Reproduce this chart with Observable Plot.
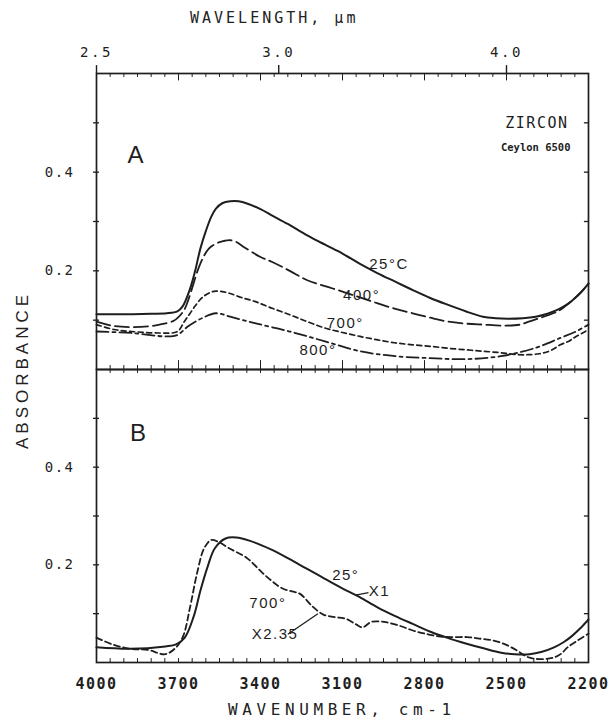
<!DOCTYPE html>
<html><head><meta charset="utf-8">
<script src="https://cdn.jsdelivr.net/npm/d3@7"></script>
<script src="https://cdn.jsdelivr.net/npm/@observablehq/plot@0.6"></script>
<style>
body{margin:0;background:#fff;}
#wrap{position:relative;width:612px;height:723px;color:#222;font-family:"DejaVu Sans Mono",monospace;}
#wrap svg{position:absolute;left:0;}
.t{position:absolute;white-space:nowrap;line-height:1;}
</style></head><body><div id="wrap"></div>
<script>
// ---------- data ----------
// Panel A (ZIRCON Ceylon 6500), wavenumber (cm-1) and absorbance
const wnA25 = [4000,3900,3800,3743,3704,3685,3660,3640,3620,3601,3580,3563,3540,3511,3480,3447,3400,3357,3300,3229,3164,3100,3036,2971,2907,2843,2779,2714,2650,2586,2540,2496,2440,2393,2350,2303,2270,2251,2225,2200];
const absA25 = [0.112,0.112,0.113,0.114,0.118,0.128,0.160,0.198,0.245,0.279,0.310,0.326,0.337,0.341,0.341,0.336,0.325,0.312,0.295,0.272,0.253,0.235,0.214,0.195,0.178,0.161,0.145,0.131,0.118,0.107,0.104,0.103,0.104,0.107,0.113,0.124,0.135,0.144,0.158,0.174];
const wnA400 = [4000,3936,3871,3800,3769,3720,3704,3680,3666,3650,3627,3605,3589,3570,3550,3530,3511,3490,3460,3400,3357,3293,3229,3164,3100,3036,2971,2907,2843,2779,2714,2650,2586,2509,2450,2419,2380,2329,2300,2264,2230,2200];
const absA400 = [0.097,0.088,0.086,0.088,0.091,0.098,0.104,0.120,0.138,0.165,0.205,0.232,0.245,0.253,0.258,0.261,0.262,0.259,0.248,0.228,0.218,0.200,0.181,0.169,0.158,0.146,0.134,0.123,0.114,0.105,0.097,0.093,0.091,0.089,0.091,0.097,0.104,0.114,0.122,0.138,0.155,0.174];
const wnA700 = [4000,3936,3871,3769,3704,3679,3660,3640,3620,3601,3580,3563,3540,3511,3470,3421,3357,3293,3229,3164,3100,3036,2971,2907,2843,2779,2714,2650,2586,2521,2457,2419,2380,2340,2303,2270,2251,2225,2200];
const absA700 = [0.091,0.081,0.077,0.074,0.077,0.097,0.112,0.128,0.142,0.151,0.157,0.159,0.158,0.154,0.146,0.138,0.124,0.111,0.097,0.084,0.075,0.067,0.060,0.054,0.050,0.047,0.043,0.040,0.037,0.034,0.030,0.030,0.032,0.038,0.050,0.058,0.065,0.073,0.081];
const wnA800 = [4000,3871,3743,3704,3666,3614,3563,3511,3421,3293,3164,3036,2907,2779,2650,2521,2393,2303,2250,2200];
const absA800 = [0.077,0.074,0.067,0.070,0.087,0.104,0.114,0.107,0.094,0.077,0.057,0.037,0.027,0.023,0.021,0.027,0.044,0.064,0.076,0.091];
// Panel B: 25° (x1) and 700° (x2.35)
const wnB25 = [4000,3877,3748,3709,3677,3644,3619,3593,3567,3528,3489,3438,3360,3295,3231,3166,3101,3037,2972,2907,2843,2778,2713,2649,2584,2519,2470,2416,2370,2326,2290,2261,2230,2200];
const absB25 = [0.031,0.028,0.033,0.037,0.051,0.095,0.149,0.197,0.234,0.254,0.256,0.249,0.231,0.212,0.192,0.172,0.152,0.134,0.113,0.095,0.079,0.063,0.050,0.039,0.029,0.020,0.017,0.017,0.022,0.031,0.042,0.054,0.070,0.088];
const wnB700 = [4000,3942,3877,3813,3748,3709,3683,3657,3632,3606,3580,3554,3515,3450,3386,3321,3280,3254,3210,3170,3130,3090,3050,3027,2995,2960,2936,2890,2840,2790,2741,2690,2643,2600,2548,2500,2460,2430,2401,2360,2328,2300,2277,2240,2200];
const absB700 = [0.051,0.037,0.028,0.026,0.017,0.031,0.054,0.115,0.183,0.234,0.251,0.247,0.234,0.214,0.180,0.152,0.145,0.140,0.115,0.098,0.093,0.090,0.078,0.072,0.083,0.084,0.082,0.075,0.065,0.058,0.053,0.052,0.052,0.049,0.045,0.036,0.024,0.013,0.008,0.007,0.010,0.018,0.031,0.045,0.059];
// ticks
const xMinorTicks = d3.range(2250, 4000, 50);
const xMajorTicks = [3700, 3400, 3100, 2800, 2500];
const xTickLabels = [4000, 3700, 3400, 3100, 2800, 2500, 2200];
const wlTickLabels = [2.5, 3.0, 4.0];
const yTicks = [0.1, 0.2, 0.3, 0.4, 0.5];
const yTickLabels = [0.2, 0.4];
// annotation text and anchor positions (data space)
const labelsA = [
  {wn: 2930, a: 0.213, t: "25°C"},
  {wn: 3030, a: 0.150, t: "400°"},
  {wn: 3090, a: 0.093, t: "700°"},
  {wn: 3190, a: 0.040, t: "800°"}
];
const labelsB = [
  {wn: 3088, a: 0.178, t: "25°"},
  {wn: 2965, a: 0.146, t: "X1"},
  {wn: 3373, a: 0.121, t: "700°"},
  {wn: 3347, a: 0.058, t: "X2.35"}
];
const leadersB = [
  {x1: 3052, y1: 0.138, x2: 3005, y2: 0.143},
  {x1: 3300, y1: 0.058, x2: 3190, y2: 0.100}
];

// ---------- drawing ----------
const ink = "#1e1e1e";
const mono = "DejaVu Sans Mono";
const sans = "Liberation Sans";
const pts = (w, a) => w.map((d, i) => ({wn: d, a: a[i]}));

function frameTicks(top, bottom) {
  return [
    Plot.frame({stroke: ink, strokeWidth: 1.7}),
    Plot.ruleY(yTicks, {y: d => d, x1: 4011, x2: 3989, stroke: ink, strokeWidth: 1.3}),
    Plot.ruleY(yTicks, {y: d => d, x1: 2200, x2: 2215, stroke: ink, strokeWidth: 1.3}),
    Plot.text(yTickLabels, {x: 4000, y: d => d, dx: -22, textAnchor: "end", text: d => d.toFixed(1),
      fontFamily: mono, fontSize: 14, fill: ink}),
    ...top, ...bottom
  ];
}
const common = {
  width: 612, marginLeft: 96, marginRight: 24,
  x: {domain: [4000, 2200], axis: null},
  y: {domain: [0, 0.6], axis: null},
  style: {background: "transparent", overflow: "visible", color: ink}
};

const plotA = Plot.plot({
  ...common, height: 369, marginTop: 73, marginBottom: 0,
  marks: [
    ...frameTicks(
      [
        Plot.ruleX(xMinorTicks, {x: d => d, y1: 0.6, y2: 0.592, stroke: ink}),
        Plot.ruleX(xMajorTicks, {x: d => d, y1: 0.6, y2: 0.585, stroke: ink}),
        Plot.ruleX(wlTickLabels, {x: d => 10000 / d, y1: 0.6, y2: 0.616, stroke: ink, strokeWidth: 1.4}),
        Plot.text(wlTickLabels, {x: d => 10000 / d, y: 0.6, dy: -21, text: d => d.toFixed(1),
          fontFamily: mono, fontSize: 14, fill: ink})
      ],
      [
        Plot.ruleX(xMinorTicks, {x: d => d, y1: 0, y2: 0.008, stroke: ink}),
        Plot.ruleX(xMajorTicks, {x: d => d, y1: 0, y2: 0.018, stroke: ink})
      ]
    ),
    Plot.line(pts(wnA25, absA25), {x: "wn", y: "a", stroke: ink, strokeWidth: 2, curve: "catmull-rom"}),
    Plot.line(pts(wnA400, absA400), {x: "wn", y: "a", stroke: ink, strokeWidth: 1.8, strokeDasharray: "14,5", curve: "catmull-rom"}),
    Plot.line(pts(wnA700, absA700), {x: "wn", y: "a", stroke: ink, strokeWidth: 1.7, strokeDasharray: "5,3.5", curve: "catmull-rom"}),
    Plot.line(pts(wnA800, absA800), {x: "wn", y: "a", stroke: ink, strokeWidth: 1.8, strokeDasharray: "12,4,3,4", curve: "catmull-rom"}),
    Plot.text(labelsA, {x: "wn", y: "a", text: "t", fontFamily: sans, fontSize: 15, fill: ink}),
    Plot.text(["A"], {x: 3855, y: 0.435, text: d => d, fontFamily: sans, fontSize: 24, fill: ink}),
    Plot.text(["ZIRCON"], {x: 2200, y: 0.5, dx: -20, textAnchor: "end", text: d => d, fontFamily: mono, fontSize: 15, fill: ink}),
    Plot.text(["Ceylon 6500"], {x: 2200, y: 0.45, dx: -18, textAnchor: "end", text: d => d, fontFamily: mono, fontSize: 10.5, fontWeight: "bold", fill: ink})
  ]
});
plotA.style.top = "0px";

const plotB = Plot.plot({
  ...common, height: 354, marginTop: 0, marginBottom: 61,
  marks: [
    ...frameTicks(
      [Plot.ruleX(xMinorTicks, {x: d => d, y1: 0.6, y2: 0.592, stroke: ink})],
      [
        Plot.ruleX(xMinorTicks, {x: d => d, y1: 0, y2: 0.008, stroke: ink}),
        Plot.text(xTickLabels, {x: d => d, y: 0, dy: 22, text: d => String(d),
          fontFamily: mono, fontSize: 15, fontWeight: "bold", fill: ink})
      ]
    ),
    Plot.line(pts(wnB25, absB25), {x: "wn", y: "a", stroke: ink, strokeWidth: 2, curve: "catmull-rom"}),
    Plot.line(pts(wnB700, absB700), {x: "wn", y: "a", stroke: ink, strokeWidth: 1.8, strokeDasharray: "6,3.5", curve: "catmull-rom"}),
    Plot.link(leadersB, {x1: "x1", y1: "y1", x2: "x2", y2: "y2", stroke: ink, strokeWidth: 1.3}),
    Plot.text(labelsB, {x: "wn", y: "a", text: "t", fontFamily: sans, fontSize: 15, fill: ink}),
    Plot.text(["B"], {x: 3845, y: 0.47, text: d => d, fontFamily: sans, fontSize: 24, fill: ink})
  ]
});
plotB.style.top = "369px";

const wrap = document.getElementById("wrap");
wrap.append(plotA, plotB);
const allText = d3.select(wrap).selectAll("svg text");
allText.style("letter-spacing", "1.5px");
allText.filter(function() { return this.textContent === "Ceylon 6500"; }).style("letter-spacing", "0px");
allText.filter(function() { return ["2.5", "3.0", "4.0"].includes(this.textContent) && this.closest("svg") === plotA; })
  .style("letter-spacing", "2.5px");

function addText(txt, css) {
  const d = document.createElement("div");
  d.className = "t"; d.textContent = txt;
  Object.assign(d.style, css);
  wrap.append(d);
  return d;
}
addText("WAVELENGTH, µm", {left: "190px", top: "11px", fontSize: "15px", letterSpacing: "3px"});
addText("WAVENUMBER, cm-1", {left: "228px", top: "702px", fontSize: "16px", letterSpacing: "4.6px"});
addText("ABSORBANCE", {left: "22px", top: "370px", fontSize: "17px", letterSpacing: "4px",
  transform: "translate(-50%,-50%) rotate(-90deg)", fontFamily: sans});
</script></body></html>
